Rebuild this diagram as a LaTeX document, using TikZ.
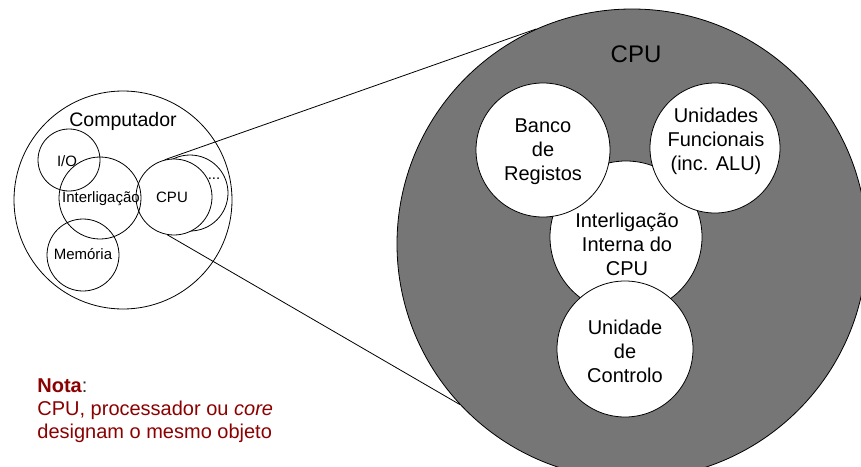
\documentclass[tikz,border=0pt]{standalone}
\usepackage{fontspec}
\setmainfont{Liberation Sans}
\definecolor{notared}{RGB}{139,0,0}
\definecolor{cpugray}{RGB}{118,118,118}
\begin{document}
\begin{tikzpicture}[x=1pt,y=-1pt,line width=0.8pt,
  ring/.style={circle,draw,inner sep=0pt,minimum size=#1},
  wring/.style={circle,draw,fill=white,inner sep=0pt,minimum size=#1},
  smalltxt/.style={inner sep=0pt,font=\fontsize{15}{18}\selectfont},
  bigtxt/.style={inner sep=0pt,align=center,font=\fontsize{20}{24}\selectfont},
  notatxt/.style={inner sep=0pt,anchor=base west,text=notared,font=\fontsize{20}{23}\selectfont}]
\useasboundingbox (0,0) rectangle (861,466);
\clip (0,0) rectangle (861,466);
% --- left: computer ---
\node[ring=218] (comp) at (123,200) {};
\node[inner sep=0pt,font=\fontsize{19.5}{22}\selectfont] (compt) at (123,121) {Computador};
\node[wring=76] (cpu2) at (190,193) {};
\node[wring=76] (cpu) at (174,197) {};
\node[ring=62] (io) at (69,160) {};
\node[ring=82] (inter) at (100,198) {};
\node[ring=72] (mem) at (83,255) {};
\node[smalltxt] (iot) at (67,161) {I/O};
\node[smalltxt] (intert) at (101,199) {Interligação};
\node[smalltxt] (memt) at (83,254) {Memória};
\node[smalltxt] (cput) at (172,197) {CPU};
\node[smalltxt,anchor=base] (dots) at (214,179) {...};
% --- right: zoomed CPU ---
\node[circle,draw,fill=cpugray,inner sep=0pt,minimum size=470] (big) at (632,244) {};
\draw (cpu.104) -- (big.114);
\draw (cpu.260) -- (big.223);
\node[inner sep=0pt,font=\fontsize{24}{28}\selectfont] (bigt) at (636,54) {CPU};
\node[wring=152] (iin) at (626,237) {};
\node[wring=134] (banco) at (543,150) {};
\node[wring=130] (func) at (715,148) {};
\node[wring=136] (ctrl) at (625,349) {};
\node[bigtxt] (bancot) at (543,152) {Banco\\de\\Registos};
\node[bigtxt] (funct) at (716,141) {Unidades\\Funcionais\\(inc. ALU)};
\node[bigtxt] (iint) at (627,244) {Interligação\\Interna do\\CPU};
\node[bigtxt] (ctrlt) at (625,351) {Unidade\\de\\Controlo};
% --- note ---
\node[notatxt] (nota) at (37,392) {\textbf{Nota}\textcolor{black!80}{:}};
\node[notatxt] (nota2) at (37,415) {CPU, processador ou \textit{core}};
\node[notatxt] (nota3) at (37,438) {designam o mesmo objeto};
\end{tikzpicture}
\end{document}
